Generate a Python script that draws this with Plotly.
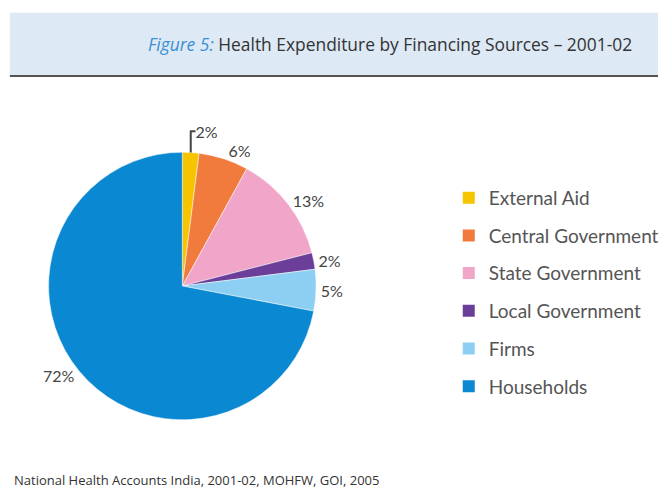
import plotly.graph_objects as go

# data
sources = ["External Aid", "Central Government", "State Government",
           "Local Government", "Firms", "Households"]
shares = [2, 6, 13, 2, 5, 72]
colors = ["#f6c500", "#f07b3c", "#f0a5c9", "#6b3f99", "#8ccff2", "#0b88d2"]

fig = go.Figure()

fig.add_trace(go.Pie(
    labels=sources,
    values=shares,
    sort=False,
    direction="clockwise",
    rotation=0,
    marker=dict(colors=colors, line=dict(color="white", width=0.5)),
    texttemplate="%{value}%",
    textposition="outside",
    textfont=dict(family="Lato", size=16, color="#444444"),
    showlegend=False,
    hoverinfo="label+value",
    domain=dict(x=[0.0738, 0.4804], y=[0.1478, 0.6943]),
))

# legend entries, one group per source so the gap can be set
for name, col in zip(sources, colors):
    fig.add_trace(go.Scatter(
        x=[None], y=[None], mode="markers", name=name,
        legendgroup=name,
        marker=dict(symbol="square", size=14, color=col),
    ))

fig.update_layout(
    width=664, height=494,
    margin=dict(l=0, r=0, t=0, b=0),
    paper_bgcolor="white", plot_bgcolor="white",
    xaxis=dict(visible=False), yaxis=dict(visible=False),
    legend=dict(
        x=0.682, y=0.638, xanchor="left", yanchor="top",
        traceorder="grouped", tracegroupgap=10,
        font=dict(family="Lato", size=19, color="#555555"),
        itemsizing="constant",
    ),
    shapes=[
        dict(type="rect", xref="paper", yref="paper", x0=0.015, x1=1,
             y0=0.848, y1=0.974, fillcolor="#dde9f5", line=dict(width=0), layer="below"),
        dict(type="line", xref="paper", yref="paper", x0=0.015, x1=1,
             y0=0.846, y1=0.846, line=dict(color="#555555", width=2)),
    ],
    annotations=[
        dict(text="<i><span style='color:#3b8fd3'>Figure 5:</span></i> Health Expenditure by Financing Sources – 2001-02",
             xref="paper", yref="paper", x=0.592, y=0.911, xanchor="center", yanchor="middle",
             showarrow=False, font=dict(family="Open Sans", size=17.4, color="#333333")),
        dict(text="National Health Accounts India, 2001-02, MOHFW, GOI, 2005",
             xref="paper", yref="paper", x=0.018, y=0.028, xanchor="left", yanchor="middle",
             showarrow=False, font=dict(family="Open Sans", size=13, color="#333333")),
    ],
)

fig.write_html("out.html", config={"displayModeBar": False},
               post_script=["document.body.style.margin='0px';"])
